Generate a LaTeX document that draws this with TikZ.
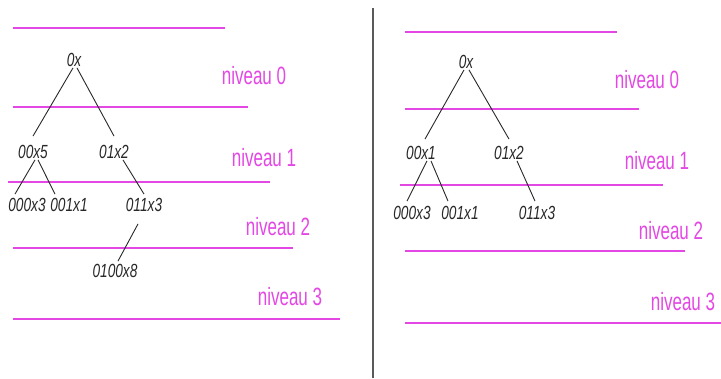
\documentclass[tikz,border=0pt]{standalone}
\usepackage{fontspec}
\setmainfont{Liberation Sans}
\newfontfamily\lblfont[FakeStretch=0.72]{Liberation Sans}
\newfontfamily\nivfont[FakeStretch=0.68]{Liberation Sans}
\definecolor{mag}{RGB}{228,72,228}
\definecolor{ink}{RGB}{40,40,40}
\begin{document}
\begin{tikzpicture}[x=1pt,y=-1pt,
  lvl/.style={draw=mag,line width=1.8pt},
  lbl/.style={inner sep=1pt,text=ink,font=\lblfont\itshape\fontsize{19}{21}\selectfont},
  niv/.style={inner sep=0pt,text=mag,font=\nivfont\fontsize{25}{27}\selectfont},
  edge/.style={draw=ink,line width=0.9pt}]
\useasboundingbox[fill=white] (0,0) rectangle (721,378);
% separator
\draw[draw=gray!70!black,line width=1.3pt] (373,8) -- (373,378);
% ---------- left panel ----------
\draw[lvl] (13,28) -- (225,28);
\draw[lvl] (13,107) -- (248,107);
\draw[lvl] (8,182) -- (270,182);
\draw[lvl] (13,248) -- (293,248);
\draw[lvl] (13,319) -- (340,319);
\node[niv] (ln0) at (254,76) {niveau 0};
\node[niv] (ln1) at (264,158) {niveau 1};
\node[niv] (ln2) at (278,227) {niveau 2};
\node[niv] (ln3) at (290,297) {niveau 3};
\node[lbl] (lr) at (74,60) {0x};
\node[lbl] (la) at (33,152) {00x5};
\node[lbl] (lb) at (114,152) {01x2};
\node[lbl] (laa) at (27,205) {000x3};
\node[lbl] (lab) at (69,205) {001x1};
\node[lbl] (lbb) at (144,205) {011x3};
\node[lbl] (lbbc) at (115,271) {0100x8};
\draw[edge] ([xshift=-1pt]lr.south) -- ([yshift=8pt]la.north);
\draw[edge] ([xshift=3pt]lr.south) -- ([yshift=8pt]lb.north);
\draw[edge] ([xshift=2pt]la.south) -- ([xshift=-12pt,yshift=3pt]laa.north);
\draw[edge] ([xshift=5pt]la.south) -- ([xshift=-14pt,yshift=3pt]lab.north);
\draw[edge] ([xshift=9pt]lb.south) -- ([yshift=3pt]lbb.north);
\draw[edge] ([xshift=-6pt,yshift=-11pt]lbb.south) -- ([xshift=3pt,yshift=2pt]lbbc.north);
% ---------- right panel ----------
\draw[lvl] (405,32) -- (617,32);
\draw[lvl] (405,109) -- (639,109);
\draw[lvl] (400,185) -- (663,185);
\draw[lvl] (405,251) -- (685,251);
\draw[lvl] (405,323) -- (721,323);
\node[niv] (rn0) at (647,80) {niveau 0};
\node[niv] (rn1) at (657,161) {niveau 1};
\node[niv] (rn2) at (671,231) {niveau 2};
\node[niv] (rn3) at (683,302) {niveau 3};
\node[lbl] (rr) at (466,62) {0x};
\node[lbl] (ra) at (421,153) {00x1};
\node[lbl] (rb) at (509,153) {01x2};
\node[lbl] (raa) at (412,213) {000x3};
\node[lbl] (rab) at (460,213) {001x1};
\node[lbl] (rbb) at (537,213) {011x3};
\draw[edge] ([xshift=-2pt]rr.south) -- ([xshift=4pt,yshift=6pt]ra.north);
\draw[edge] ([xshift=3pt]rr.south) -- ([yshift=6pt]rb.north);
\draw[edge] ([xshift=6pt]ra.south) -- ([xshift=-5pt,yshift=4pt]raa.north);
\draw[edge] ([xshift=10pt]ra.south) -- ([xshift=-12pt,yshift=4pt]rab.north);
\draw[edge] ([xshift=8pt]rb.south) -- ([xshift=-2pt,yshift=4pt]rbb.north);
\end{tikzpicture}
\end{document}
